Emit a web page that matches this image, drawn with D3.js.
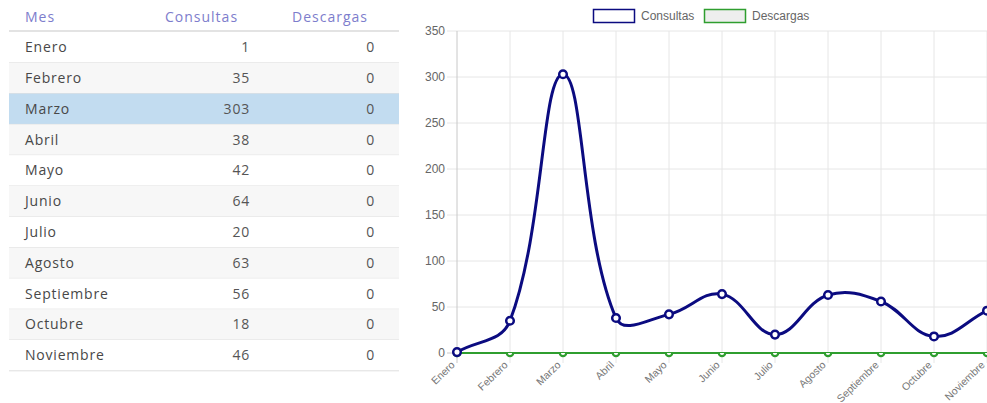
<!DOCTYPE html>
<html lang="es">
<head>
<meta charset="UTF-8">
<title>Consultas y descargas por mes</title>
<script src="https://cdnjs.cloudflare.com/ajax/libs/d3/7.8.5/d3.min.js"></script>
<style>
    html, body { margin: 0; padding: 0; background: #fff; }
    svg { display: block; }
    .tbl text { font-family: "Open Sans", "Noto Sans", sans-serif; font-size: 14px; fill: #484848; letter-spacing: 0.8px; }
    .tbl .head { fill: #7d7dcc; letter-spacing: 1px; }
    .tbl .num { fill: #555; }
    .chart text { font-family: "Liberation Sans", Arial, sans-serif; font-size: 12px; fill: #666; }
    .chart .xlab { font-size: 10.5px; fill: #777; }
</style>
</head>
<body>
<div id="svg"></div>
<script>
    // Data
    const meses      = ['Enero', 'Febrero', 'Marzo', 'Abril', 'Mayo', 'Junio', 'Julio', 'Agosto', 'Septiembre', 'Octubre', 'Noviembre'];
    const consultas  = [1, 35, 303, 38, 42, 64, 20, 63, 56, 18, 46];
    const descargas  = [0, 0, 0, 0, 0, 0, 0, 0, 0, 0, 0];
    const columnas   = ['Mes', 'Consultas', 'Descargas'];
    const yTicks     = [0, 50, 100, 150, 200, 250, 300, 350];
    const filaMarcada = 'Marzo';

    const width  = 987;
    const height = 403;

    const svg = d3.select('#svg')
        .append('svg')
        .attr('width', width)
        .attr('height', height);

    // ---------- table on the left ----------
    const tbl = svg.append('g').attr('class', 'tbl');
    const rowH = 30.8;
    const rowTop = 32;
    const tblLeft = 9, tblRight = 399;

    const rowY = d3.scaleBand()
        .domain(meses)
        .range([rowTop, rowTop + rowH * meses.length])
        .padding(0);

    // header
    const headX = [25, 165, 292];
    tbl.selectAll('.head')
        .data(columnas)
        .enter()
        .append('text')
        .attr('class', 'head')
        .attr('x', (d, i) => headX[i])
        .attr('y', 17)
        .attr('dy', '0.35em')
        .text(d => d);

    tbl.append('line')
        .attr('x1', tblLeft).attr('x2', tblRight)
        .attr('y1', 31).attr('y2', 31)
        .attr('stroke', '#e3e3e3')
        .attr('stroke-width', 2);

    const rows = tbl.selectAll('.row')
        .data(meses)
        .enter()
        .append('g')
        .attr('class', 'row')
        .attr('transform', d => `translate(0,${rowY(d)})`);

    rows.append('rect')
        .attr('x', tblLeft)
        .attr('width', tblRight - tblLeft)
        .attr('height', rowY.bandwidth())
        .attr('fill', (d, i) => d === filaMarcada ? '#c2dcf0' : (i % 2 ? '#f7f7f7' : '#ffffff'));

    rows.append('line')
        .attr('x1', tblLeft).attr('x2', tblRight)
        .attr('y1', rowY.bandwidth()).attr('y2', rowY.bandwidth())
        .attr('stroke', '#dedede');

    const midY = rowY.bandwidth() / 2;
    rows.append('text')
        .attr('x', 25).attr('y', midY).attr('dy', '0.35em')
        .text(d => d);
    rows.append('text')
        .attr('class', 'num')
        .attr('x', 250).attr('y', midY).attr('dy', '0.35em')
        .attr('text-anchor', 'end')
        .text((d, i) => consultas[i]);
    rows.append('text')
        .attr('class', 'num')
        .attr('x', 375).attr('y', midY).attr('dy', '0.35em')
        .attr('text-anchor', 'end')
        .text((d, i) => descargas[i]);

    // ---------- line chart on the right ----------
    const chart = svg.append('g').attr('class', 'chart');
    const area = { left: 457, right: 987, top: 31, bottom: 353 };

    const x = d3.scalePoint()
        .domain(meses)
        .range([area.left, area.right]);

    const y = d3.scaleLinear()
        .domain([0, 350])
        .range([area.bottom, area.top]);

    const grid = '#e6e6e6';

    // horizontal grid + tick marks
    chart.selectAll('.hgrid')
        .data(yTicks)
        .enter()
        .append('line')
        .attr('x1', area.left - 10).attr('x2', area.right)
        .attr('y1', d => y(d)).attr('y2', d => y(d))
        .attr('stroke', d => d === 0 ? '#c8c8c8' : grid);

    // vertical grid + tick marks
    chart.selectAll('.vgrid')
        .data(meses)
        .enter()
        .append('line')
        .attr('x1', d => x(d)).attr('x2', d => x(d))
        .attr('y1', area.top).attr('y2', area.bottom + 10)
        .attr('stroke', (d, i) => i === 0 ? '#c8c8c8' : grid);

    // y labels
    chart.selectAll('.ylab')
        .data(yTicks)
        .enter()
        .append('text')
        .attr('x', area.left - 12)
        .attr('y', d => y(d))
        .attr('dy', '0.35em')
        .attr('text-anchor', 'end')
        .text(d => d);

    // x labels, rotated
    chart.selectAll('.xlab')
        .data(meses)
        .enter()
        .append('text')
        .attr('class', 'xlab')
        .attr('transform', d => `translate(${x(d) - 4},${area.bottom + 10}) rotate(-44)`)
        .attr('dy', '0.35em')
        .attr('text-anchor', 'end')
        .text(d => d);

    // spline like the chart library (tension 0.4), control points capped to the area
    const spline = (pts, t) => {
        const cap = (v, lo, hi) => Math.max(lo, Math.min(hi, v));
        const cps = pts.map((p, i) => {
            const prev = pts[i - 1] || p, next = pts[i + 1] || p;
            const d01 = Math.hypot(p[0] - prev[0], p[1] - prev[1]);
            const d12 = Math.hypot(next[0] - p[0], next[1] - p[1]);
            const s01 = d01 + d12 ? d01 / (d01 + d12) : 0;
            const s12 = d01 + d12 ? d12 / (d01 + d12) : 0;
            const fa = t * s01, fb = t * s12;
            return {
                px: cap(p[0] - fa * (next[0] - prev[0]), area.left, area.right),
                py: cap(p[1] - fa * (next[1] - prev[1]), area.top, area.bottom),
                nx: cap(p[0] + fb * (next[0] - prev[0]), area.left, area.right),
                ny: cap(p[1] + fb * (next[1] - prev[1]), area.top, area.bottom)
            };
        });
        const path = d3.path();
        path.moveTo(pts[0][0], pts[0][1]);
        for (let i = 1; i < pts.length; i++) {
            path.bezierCurveTo(cps[i - 1].nx, cps[i - 1].ny, cps[i].px, cps[i].py, pts[i][0], pts[i][1]);
        }
        return path.toString();
    };

    const series = [
        { name: 'Consultas', values: consultas, color: '#0b0b80', fill: '#ffffff' },
        { name: 'Descargas', values: descargas, color: '#2f9e2f', fill: '#eeeeee' }
    ];

    // clip for the green points: only the part under the line shows
    svg.append('defs').append('clipPath')
        .attr('id', 'under')
        .append('rect')
        .attr('x', area.left - 10).attr('y', area.bottom)
        .attr('width', area.right - area.left + 20).attr('height', 10);

    // draw Descargas first, Consultas on top
    series.slice().reverse().forEach(s => {
        const pts = s.values.map((v, i) => [x(meses[i]), y(v)]);
        const g = chart.append('g');
        g.append('path')
            .attr('d', spline(pts, 0.4))
            .attr('fill', 'none')
            .attr('stroke', s.color)
            .attr('stroke-width', s.name === 'Consultas' ? 3 : 2);
        g.selectAll('circle')
            .data(pts)
            .enter()
            .append('circle')
            .attr('cx', d => d[0])
            .attr('cy', d => d[1])
            .attr('r', s.name === 'Consultas' ? 3.8 : 3.2)
            .attr('fill', '#fff')
            .attr('stroke', s.color)
            .attr('stroke-width', s.name === 'Consultas' ? 2.5 : 2.2)
            .attr('clip-path', s.name === 'Consultas' ? null : 'url(#under)');
    });

    // legend
    const legendX = [593, 704];
    const legend = chart.selectAll('.legend')
        .data(series)
        .enter()
        .append('g')
        .attr('transform', (d, i) => `translate(${legendX[i]},9)`);
    legend.append('rect')
        .attr('x', 0.5).attr('y', 0.5)
        .attr('width', 41).attr('height', 13)
        .attr('fill', d => d.fill)
        .attr('stroke', d => d.color)
        .attr('stroke-width', 1.5);
    legend.append('text')
        .attr('x', 48).attr('y', 7)
        .attr('dy', '0.35em')
        .text(d => d.name);
</script>
</body>
</html>
